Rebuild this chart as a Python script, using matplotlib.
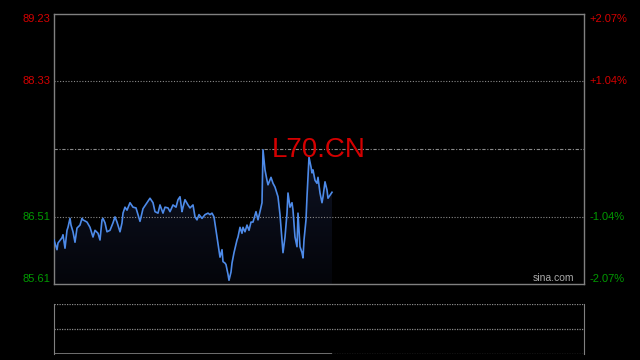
import matplotlib
matplotlib.use('Agg')
import matplotlib.pyplot as plt
import numpy as np

# intraday quotes for L70.CN, minute index from session open
session_len = 530
prev_close = 87.42
y_top = 89.23
y_bottom = 85.61
minutes = [0, 3, 4, 8, 9, 11, 13, 14, 16, 17, 19, 21, 23, 26, 28, 29, 33, 36, 39, 41,
           44, 46, 48, 49, 51, 53, 56, 59, 61, 63, 66, 68, 69, 71, 73, 76, 79, 82, 84, 86,
           89, 93, 96, 99, 101, 104, 106, 109, 111, 114, 116, 119, 122, 124, 126, 128, 129, 131, 134, 136,
           139, 141, 143, 145, 148, 151, 154, 156, 158, 160, 162, 164, 166, 168, 169, 171, 172, 174, 175, 177,
           178, 180, 183, 184, 186, 188, 189, 191, 193, 195, 197, 199, 202, 204, 206, 208, 209, 211, 213, 214,
           217, 219, 221, 224, 226, 228, 229, 231, 233, 234, 236, 238, 239, 241, 243, 244, 246, 248, 249, 250,
           252, 253, 255, 257, 258, 259, 261, 263, 264, 266, 268, 269, 271, 273, 274, 276, 278]
prices = [86.20, 86.07, 86.16, 86.23, 86.27, 86.09, 86.33, 86.37, 86.49, 86.40, 86.31, 86.17, 86.36, 86.40, 86.49, 86.47, 86.44, 86.37, 86.24, 86.33,
          86.29, 86.20, 86.47, 86.49, 86.43, 86.31, 86.33, 86.43, 86.51, 86.44, 86.31, 86.43, 86.56, 86.64, 86.60, 86.70, 86.64, 86.63, 86.54, 86.45,
          86.62, 86.70, 86.76, 86.70, 86.58, 86.56, 86.67, 86.56, 86.64, 86.63, 86.58, 86.67, 86.64, 86.74, 86.78, 86.58, 86.64, 86.74, 86.67, 86.63,
          86.67, 86.51, 86.47, 86.54, 86.49, 86.54, 86.56, 86.54, 86.56, 86.51, 86.33, 86.16, 85.97, 86.07, 85.91, 85.89, 85.87, 85.74, 85.66, 85.77,
          85.89, 86.03, 86.20, 86.24, 86.37, 86.29, 86.37, 86.31, 86.40, 86.33, 86.44, 86.44, 86.58, 86.47, 86.58, 86.70, 87.41, 87.14, 87.00, 86.94,
          87.04, 86.96, 86.91, 86.78, 86.54, 86.20, 86.03, 86.24, 86.56, 86.83, 86.64, 86.70, 86.60, 86.24, 86.11, 86.56, 86.11, 86.03, 85.96, 86.20,
          86.47, 86.78, 87.31, 87.18, 87.10, 87.14, 87.00, 86.96, 87.04, 86.83, 86.70, 86.78, 86.98, 86.87, 86.76, 86.80, 86.84]

price_ticks = [85.61, 86.51, 88.33, 89.23]
pct_labels = ['-2.07%', '-1.04%', '+1.04%', '+2.07%']

red = '#d40000'
green = '#009a00'
frame = '#808080'
grid = '#8a8a8a'

fig = plt.figure(figsize=(6.4, 3.6), dpi=100, facecolor='black')
plt.rcParams['font.family'] = ['Liberation Sans', 'DejaVu Sans']

ax = fig.add_axes([54/640, 76/360, 530/640, 270/360], facecolor='black')
ax.set_xlim(0, session_len)
ax.set_ylim(y_bottom, y_top)
ax.set_xticks([])
ax.set_yticks([])
for s in ax.spines.values():
    s.set_color(frame)
    s.set_linewidth(1)

for p in price_ticks[1:3]:
    ax.axhline(p, color=grid, lw=0.8, ls=(0, (1, 1.5)))
ax.axhline(prev_close, color=grid, lw=0.8, ls=(0, (3, 1.5, 1, 1.5)))

# faint gradient under the price line
poly = ax.fill_between(minutes, prices, y_bottom, color='none', lw=0)
grad = np.linspace(0, 1, 100).reshape(-1, 1)
img = ax.imshow(grad, extent=[0, session_len, y_bottom, max(prices)], aspect='auto',
                origin='lower', cmap=matplotlib.colors.LinearSegmentedColormap.from_list(
                    'g', ['#04050a', '#0e1324']), zorder=1)
img.set_clip_path(poly.get_paths()[0], transform=ax.transData)
ax.plot(minutes, prices, color='#4d8ae8', lw=1.2, zorder=3)

ax.text(0.5, 0.497, 'L70.CN', transform=ax.transAxes, color=red, fontsize=20,
        ha='center', va='center')
ax.text(0.981, 0.004, 'sina.com', transform=ax.transAxes, color='#aaaaaa',
        fontsize=7.5, ha='right', va='bottom')

# left price labels and right percent labels
vas = ['bottom', 'center', 'center', 'top']
for p, lab, va in zip(price_ticks, pct_labels, vas):
    c = red if p > prev_close else green
    ax.text(-0.006, p, '%.2f' % p, transform=ax.get_yaxis_transform(), color=c,
            fontsize=8, ha='right', va=va)
    ax.text(1.011, p, lab, transform=ax.get_yaxis_transform(), color=c,
            fontsize=8, ha='left', va=va)

# volume panel
ax2 = fig.add_axes([54/640, 6/360, 530/640, 50/360], facecolor='black')
ax2.set_xlim(0, session_len)
ax2.set_ylim(0, 2)
ax2.set_xticks([])
ax2.set_yticks([])
for k in ['top', 'bottom']:
    ax2.spines[k].set_visible(False)
for k in ['left', 'right']:
    ax2.spines[k].set_color(frame)
for v in [0, 1, 2]:
    ax2.axhline(v, color=grid, lw=0.9, ls=(0, (1, 1)))
ax2.hlines(0, minutes[0], minutes[-1], color=frame, lw=1.2)

fig.savefig('out.png', dpi=100, facecolor='black')
plt.close(fig)
